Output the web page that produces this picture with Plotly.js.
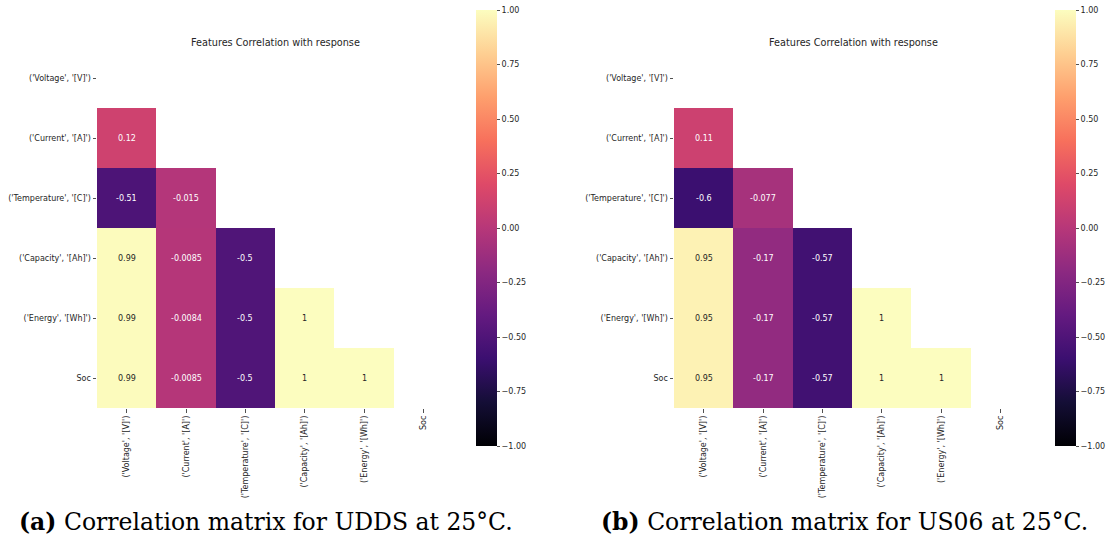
<!DOCTYPE html>
<html>
<head>
<meta charset="utf-8">
<script src="https://cdn.plot.ly/plotly-3.0.1.min.js"></script>
<style>html,body{margin:0;padding:0;background:#fff;}#chart{width:1112px;height:543px;}</style>
</head>
<body>
<div id="chart"></div>
<script>
// ---- data ----
const features = ["('Voltage', '[V]')", "('Current', '[A]')", "('Temperature', '[C]')", "('Capacity', '[Ah]')", "('Energy', '[Wh]')", "Soc"];

// lower triangle correlation values (row i, columns 0..i-1)
const uddsCurrent     = [0.12];
const uddsTemperature = [-0.51, -0.015];
const uddsCapacity    = [0.99, -0.0085, -0.5];
const uddsEnergy      = [0.99, -0.0084, -0.5, 1];
const uddsSoc         = [0.99, -0.0085, -0.5, 1, 1];

const us06Current     = [0.11];
const us06Temperature = [-0.6, -0.077];
const us06Capacity    = [0.95, -0.17, -0.57];
const us06Energy      = [0.95, -0.17, -0.57, 1];
const us06Soc         = [0.95, -0.17, -0.57, 1, 1];

const colorbarTicks = [-1, -0.75, -0.5, -0.25, 0, 0.25, 0.5, 0.75, 1];

const titleText = "Features Correlation with response";
const captionA = "<b>(a)</b> Correlation matrix for UDDS at 25°C.";
const captionB = "<b>(b)</b> Correlation matrix for US06 at 25°C.";

// ---- build matrices (masked upper triangle incl. diagonal) ----
function buildMatrix(rows) {
  const n = features.length;
  const z = [];
  for (let i = 0; i < n; i++) {
    const row = [];
    for (let j = 0; j < n; j++) {
      row.push(i > 0 && j < i ? rows[i - 1][j] : null);
    }
    z.push(row);
  }
  return z;
}
const zA = buildMatrix([uddsCurrent, uddsTemperature, uddsCapacity, uddsEnergy, uddsSoc]);
const zB = buildMatrix([us06Current, us06Temperature, us06Capacity, us06Energy, us06Soc]);

const magma = [
  [0.0, '#000004'], [0.1, '#140e36'], [0.2, '#3b0f70'], [0.3, '#641a80'],
  [0.4, '#8c2981'], [0.5, '#b73779'], [0.6, '#de4968'], [0.7, '#f7705c'],
  [0.8, '#fe9f6d'], [0.9, '#fecf92'], [1.0, '#fcfdbf']
];

const W = 1112, H = 543;
const idx = features.map((_, i) => i);
const fontFam = 'DejaVu Sans, sans-serif';
const dark = '#262626';

function trace(z, xa, ya, cbx) {
  return {
    type: 'heatmap', z: z, x: idx, y: idx, xaxis: xa, yaxis: ya,
    colorscale: magma, zmin: -1, zmax: 1, hoverongaps: false,
    colorbar: {
      x: cbx / W, xanchor: 'left', y: 1 - 10 / H, yanchor: 'top',
      len: 436 / H, lenmode: 'fraction', thickness: 21, thicknessmode: 'pixels',
      outlinewidth: 0, xpad: 0, ypad: 0,
      tickvals: colorbarTicks, tickformat: '.2f', ticks: 'outside', ticklen: 3.5,
      tickwidth: 0.8, tickcolor: dark,
      tickfont: {family: fontFam, size: 8, color: dark}
    }
  };
}

function annots(z, xr, yr) {
  const out = [];
  for (let i = 0; i < z.length; i++) {
    for (let j = 0; j < z[i].length; j++) {
      const v = z[i][j];
      if (v === null) continue;
      out.push({
        x: j, y: i, xref: xr, yref: yr, showarrow: false,
        text: String(parseFloat(v.toPrecision(2))),
        font: {family: fontFam, size: 8, color: v > 0.5 ? dark : '#ffffff'}
      });
    }
  }
  return out;
}

function xax(d0, d1, anchor) {
  return {
    domain: [d0 / W, d1 / W], anchor: anchor, range: [-0.5, 5.5],
    tickvals: idx, ticktext: features, tickangle: -90,
    ticks: 'outside', ticklen: 3.5, tickwidth: 0.8, tickcolor: dark,
    tickfont: {family: fontFam, size: 8, color: dark},
    showgrid: false, zeroline: false, showline: false, fixedrange: true
  };
}
function yax(anchor) {
  return {
    domain: [1 - 408 / H, 1 - 48 / H], anchor: anchor, range: [5.5, -0.5],
    tickvals: idx, ticktext: features,
    ticks: 'outside', ticklen: 3.5, tickwidth: 0.8, tickcolor: dark,
    tickfont: {family: fontFam, size: 8, color: dark},
    showgrid: false, zeroline: false, showline: false, fixedrange: true
  };
}

const capFont = {family: 'DejaVu Serif, serif', size: 23.5, color: '#000'};
const annotations = [].concat(
  annots(zA, 'x', 'y'),
  annots(zB, 'x2', 'y2'),
  [
    {x: 275 / W, y: 1 - 42 / H, xref: 'paper', yref: 'paper', showarrow: false, text: titleText,
     font: {family: fontFam, size: 9.7, color: dark}, xanchor: 'center', yanchor: 'middle'},
    {x: 853 / W, y: 1 - 42 / H, xref: 'paper', yref: 'paper', showarrow: false, text: titleText,
     font: {family: fontFam, size: 9.7, color: dark}, xanchor: 'center', yanchor: 'middle'},
    {x: 266 / W, y: 1 - 522 / H, xref: 'paper', yref: 'paper', showarrow: false, text: captionA,
     font: capFont, xanchor: 'center', yanchor: 'middle'},
    {x: 844 / W, y: 1 - 522 / H, xref: 'paper', yref: 'paper', showarrow: false, text: captionB,
     font: capFont, xanchor: 'center', yanchor: 'middle'}
  ]
);

const layout = {
  width: W, height: H, margin: {l: 0, r: 0, t: 0, b: 0},
  paper_bgcolor: '#fff', plot_bgcolor: '#fff', showlegend: false,
  xaxis: xax(97, 453, 'y'), yaxis: yax('x'),
  xaxis2: xax(674, 1030, 'y2'), yaxis2: yax('x2'),
  annotations: annotations
};

Plotly.newPlot('chart', [trace(zA, 'x', 'y', 476), trace(zB, 'x2', 'y2', 1055)], layout, {displayModeBar: false, staticPlot: true});
</script>
</body>
</html>
